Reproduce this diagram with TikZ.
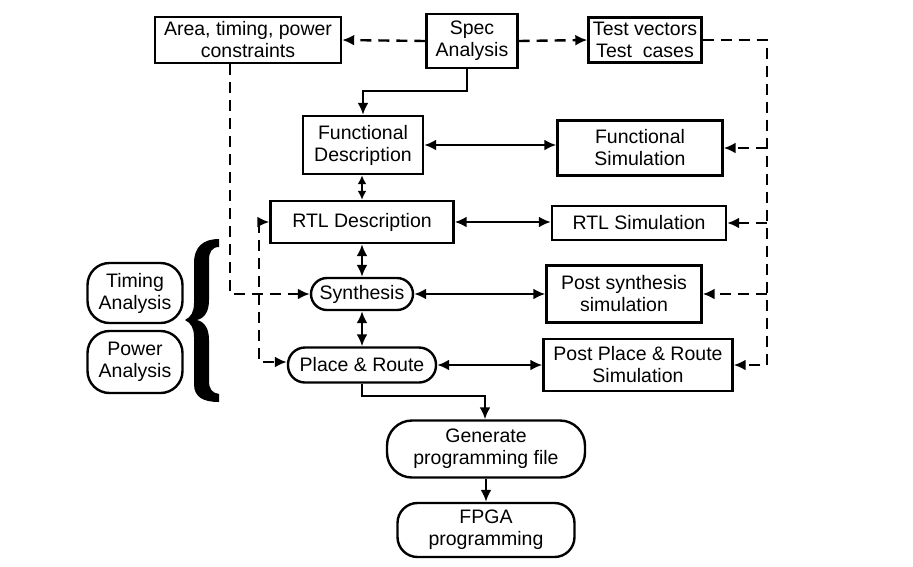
\documentclass[tikz,border=0pt]{standalone}
\usepackage{fontspec}
\setmainfont{Liberation Sans}
\usetikzlibrary{arrows.meta}
\begin{document}
\begin{tikzpicture}[x=1pt,y=-1pt,
  box/.style={draw,line width=2.4pt,inner sep=0pt,align=center,font=\fontsize{19.5}{22}\selectfont},
  rbox/.style={box,rounded corners=#1},
  ln/.style={line width=2.4pt},
  tip/.style={-{Latex[length=12pt,width=11pt]}},
  dtip/.style={{Latex[length=12pt,width=11pt]}-{Latex[length=12pt,width=11pt]}},
  sdtip/.style={{Latex[length=9pt,width=9pt]}-{Latex[length=9pt,width=9pt]}},
  dsh/.style={ln,dash pattern=on 11pt off 7pt}]
\useasboundingbox (0,0) rectangle (913,566);
\fill[white] (0,0) rectangle (913,566);
% nodes
\node[box,minimum width=186pt,minimum height=46pt] (area) at (248,40) {Area, timing, power\\constraints};
\node[box,minimum width=91pt,minimum height=54pt] (spec) at (472,41) {Spec\\Analysis};
\node[box,minimum width=113pt,minimum height=45pt] (test) at (645,40) {Test vectors\\Test\ \ cases};
\node[box,minimum width=120pt,minimum height=58pt] (fdesc) at (363,145) {Functional\\Description};
\node[box,minimum width=165pt,minimum height=55pt] (fsim) at (640,148) {Functional\\Simulation};
\node[box,minimum width=183pt,minimum height=42pt] (rtl) at (362,222) {RTL Description};
\node[box,minimum width=174pt,minimum height=34pt] (rsim) at (639,223) {RTL Simulation};
\node[rbox=16pt,minimum width=102pt,minimum height=32pt] (syn) at (362,294) {Synthesis};
\node[box,minimum width=155pt,minimum height=57pt] (psim) at (624,294) {Post synthesis\\simulation};
\node[rbox=17pt,minimum width=148pt,minimum height=35pt] (pr) at (362,365) {Place \& Route};
\node[box,minimum width=189pt,minimum height=52pt] (prsim) at (638,365) {Post Place \& Route\\Simulation};
\node[rbox=25pt,minimum width=198pt,minimum height=57pt] (gen) at (486,449) {Generate\\programming file};
\node[rbox=20pt,minimum width=177pt,minimum height=54pt] (fpga) at (486,530) {FPGA\\programming};
\node[rbox=22pt,minimum width=95pt,minimum height=60pt] (tim) at (135,293) {Timing\\Analysis};
\node[rbox=22pt,minimum width=95pt,minimum height=62pt] (pow) at (135,362) {Power\\Analysis};
% brace
\fill (219,239) .. controls (203,239) and (194,247) .. (194,263) -- (194,303)
  .. controls (194,312) and (191,317) .. (185,320)
  .. controls (191,323) and (194,328) .. (194,337) -- (194,384)
  .. controls (194,397) and (203,402) .. (219,402)
  -- (219,394) .. controls (212,393) and (209,389) .. (209,381) -- (209,340)
  .. controls (209,329) and (205,322) .. (197,320)
  .. controls (205,318) and (209,311) .. (209,300) -- (209,260)
  .. controls (209,252) and (212,247) .. (219,247) -- cycle;
% connectors
\draw[dsh,tip] (spec.west) -- (area.east);
\draw[dsh,tip] (spec.east) -- (test.west);
\draw[ln,tip] ([xshift=-5pt]spec.south) -- ++(0,22) -| (fdesc.north);
\draw[ln,dtip] (fdesc.east) -- (fsim.west |- fdesc.east);
\draw[ln,sdtip] ([xshift=-1pt]fdesc.south) -- ([xshift=-1pt]fdesc.south |- rtl.north);
\draw[ln,dtip] (rtl.east) -- (rsim.west |- rtl.east);
\draw[ln,dtip] (rtl.south) -- (syn.north);
\draw[ln,dtip] (syn.east) -- (psim.west);
\draw[ln,dtip] (syn.south) -- (pr.north);
\draw[ln,dtip] (pr.east) -- (prsim.west);
\draw[ln,tip] (pr.south) -- ++(0,12) -| ([xshift=-1pt]gen.north);
\draw[ln,tip] (gen.south) -- (fpga.north);
% test vector bus
\coordinate (bus) at (767,365);
\draw[dsh,tip] (test.east) -| (bus) -- (prsim.east);
\draw[dsh,tip] (bus |- fsim.east) -- (fsim.east);
\draw[dsh,tip] (bus |- rsim.east) -- (rsim.east);
\draw[dsh,tip] (bus |- psim.east) -- (psim.east);
% constraints
\coordinate (ac) at (230,294);
\draw[dsh,tip] (ac |- area.south) -- (ac) -- (syn.west);
\coordinate (lc) at (259,222);
\draw[dsh,dtip] (rtl.west) -- (lc) |- ([yshift=3pt]pr.west);
\end{tikzpicture}
\end{document}
